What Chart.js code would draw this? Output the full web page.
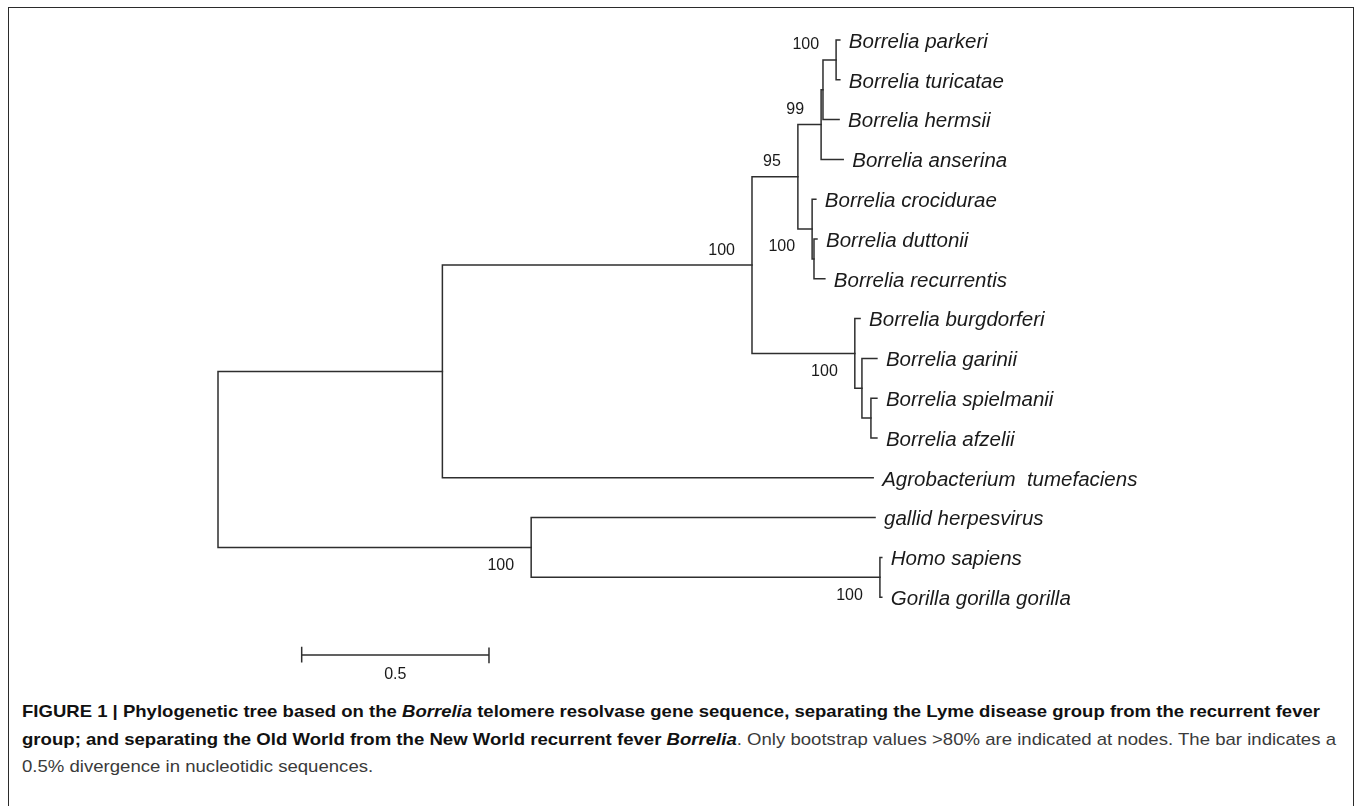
<!DOCTYPE html>
<html><head><meta charset="utf-8">
<script src="https://cdn.jsdelivr.net/npm/chart.js@4.4.1/dist/chart.umd.min.js"></script>
<style>
html,body{margin:0;padding:0;background:#fff;}
body{width:1355px;height:806px;position:relative;overflow:hidden;}
#frame{position:absolute;left:8px;top:7px;width:1346px;height:900px;border:1.5px solid #2b2b2b;box-sizing:border-box;}
#wrap{position:absolute;left:0;top:0;width:1355px;height:690px;}
#caption{position:absolute;left:22px;top:698px;font-family:"Liberation Sans",Arial,sans-serif;font-size:17px;line-height:27.5px;color:#3a3a3a;white-space:nowrap;}
#caption .ln{display:block;transform-origin:0 50%;width:max-content;}
#caption b{font-weight:bold;color:#111;}
</style></head>
<body>
<div id="frame"></div>
<div id="wrap"><canvas id="c" width="1355" height="690"></canvas></div>
<div id="caption">
<span class="ln" id="l1"><b>FIGURE 1 | Phylogenetic tree based on the <i>Borrelia</i> telomere resolvase gene sequence, separating the Lyme disease group from the recurrent fever</b></span>
<span class="ln" id="l2"><b>group; and separating the Old World from the New World recurrent fever <i>Borrelia</i></b>. Only bootstrap values &gt;80% are indicated at nodes. The bar indicates a</span>
<span class="ln" id="l3">0.5% divergence in nucleotidic sequences.</span>
</div>
<script>
// ---- data ----
const taxa = ["Borrelia parkeri","Borrelia turicatae","Borrelia hermsii","Borrelia anserina","Borrelia crocidurae","Borrelia duttonii","Borrelia recurrentis","Borrelia burgdorferi","Borrelia garinii","Borrelia spielmanii","Borrelia afzelii","Agrobacterium  tumefaciens","gallid herpesvirus","Homo sapiens","Gorilla gorilla gorilla"];
// distance of each tip from the root (substitution units)
const tipDepth = [1.660,1.660,1.658,1.669,1.596,1.599,1.620,1.714,1.759,1.759,1.759,1.749,1.754,1.772,1.772];
// internal nodes
const nodeIds   = ["A","A2","B","D2","D","C","H","G","F","E","I","J","K","root"];
const nodeKids  = [[0,1],["A",2],["A2",3],[5,6],[4,"D2"],["B","D"],[9,10],[8,"H"],[7,"G"],["C","F"],["E",11],[13,14],[12,"J"],["I","K"]];
const nodeDepth = [1.650,1.615,1.610,1.591,1.586,1.548,1.743,1.719,1.700,1.4255,0.599,1.767,0.836,0];
// bootstrap support
const bootNode  = ["A","B","C","D","E","F","K","J"];
const bootValue = [100,99,95,100,100,100,100,100];
const bootBelow = [false,false,false,true,false,true,true,true];
// scale bar
const scaleBarLength = [0.5];
const scaleBarText = ["0.5"];

// ---- geometry helpers ----
const depthOf = {}, yOf = {};
taxa.forEach((t,i)=>{depthOf[i]=tipDepth[i]; yOf[i]=i;});
nodeIds.forEach((id,k)=>{
  const [a,b] = nodeKids[k];
  depthOf[id]=nodeDepth[k];
  yOf[id]=(yOf[a]+yOf[b])/2;
});

const LINE = '#2e2e2e';
const datasets = [];
nodeIds.forEach((id,k)=>{
  const [a,b]=nodeKids[k], d=nodeDepth[k];
  datasets.push({data:[{x:depthOf[a],y:yOf[a]},{x:d,y:yOf[a]},{x:d,y:yOf[b]},{x:depthOf[b],y:yOf[b]}]});
});
// scale bar
const sbX0 = 0.2234, sbY = 15.452, sbTick = 0.19;
const sbX1 = sbX0 + scaleBarLength[0];
datasets.push({data:[{x:sbX0,y:sbY-sbTick},{x:sbX0,y:sbY+sbTick},{x:sbX0,y:sbY},{x:sbX1,y:sbY},{x:sbX1,y:sbY-sbTick},{x:sbX1,y:sbY+sbTick}]});
datasets.forEach(ds=>Object.assign(ds,{showLine:true,borderColor:LINE,borderWidth:1.5,pointRadius:0,pointHoverRadius:0,fill:false,tension:0,borderCapStyle:'square',borderJoinStyle:'miter'}));

const PX_PER_UNIT = 374.6, ROOT_PX = 218, ROW_PX = 39.8, TOP_PX = 40;
const W = 1355, H = 690;
const xmin = -ROOT_PX/PX_PER_UNIT, xmax = xmin + W/PX_PER_UNIT;
const ymin = -TOP_PX/ROW_PX, ymax = ymin + H/ROW_PX;

const labelPlugin = {
  id:'treeLabels',
  afterDatasetsDraw(chart){
    const ctx=chart.ctx, xs=chart.scales.x, ys=chart.scales.y;
    ctx.save();
    ctx.fillStyle='#1a1a1a';
    ctx.textBaseline='middle';
    ctx.textAlign='left';
    ctx.font='italic 20.5px "Liberation Sans", Arial, sans-serif';
    taxa.forEach((t,i)=>{
      ctx.fillText(t, xs.getPixelForValue(tipDepth[i])+9, ys.getPixelForValue(i)+2);
    });
    ctx.font='16px "Liberation Sans", Arial, sans-serif';
    ctx.textAlign='right';
    bootNode.forEach((id,k)=>{
      const px=xs.getPixelForValue(depthOf[id])-17;
      const py=ys.getPixelForValue(yOf[id])+(bootBelow[k]?18:-15);
      ctx.fillText(String(bootValue[k]),px,py);
    });
    ctx.textAlign='center';
    ctx.fillText(scaleBarText[0], xs.getPixelForValue((sbX0+sbX1)/2), ys.getPixelForValue(sbY)+20);
    ctx.restore();
  }
};

new Chart(document.getElementById('c'),{
  type:'scatter',
  data:{datasets},
  options:{
    responsive:false,animation:false,events:[],
    layout:{padding:0},
    plugins:{legend:{display:false},tooltip:{enabled:false}},
    scales:{
      x:{type:'linear',min:xmin,max:xmax,display:false},
      y:{type:'linear',min:ymin,max:ymax,reverse:true,display:false}
    }
  },
  plugins:[labelPlugin]
});

// fit caption lines to the printed widths
function fit(id,target){const el=document.getElementById(id);const w=el.getBoundingClientRect().width;const s=target/w;el.style.transform='scaleX('+s+')';return s;}
const s1=fit('l1',1298);
const s2=fit('l2',1314);
document.getElementById('l3').style.transform='scaleX('+s2+')';
</script>
</body></html>
